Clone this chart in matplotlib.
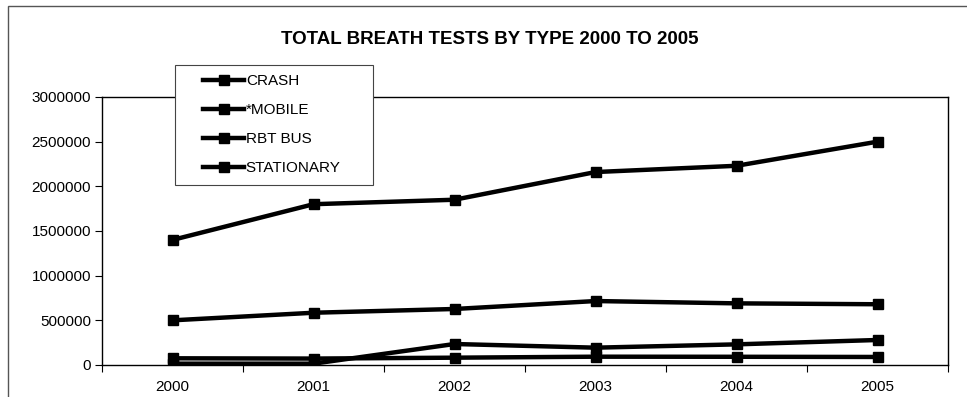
import matplotlib
matplotlib.use("Agg")
import matplotlib.pyplot as plt
from matplotlib.patches import Rectangle

plt.rcParams['font.family'] = ['Liberation Sans', 'DejaVu Sans']

years = ["2000", "2001", "2002", "2003", "2004", "2005"]
crash = [75000, 72000, 82000, 93000, 92000, 90000]
mobile = [15000, 15000, 235000, 194000, 231000, 280000]
rbt_bus = [500000, 585000, 627000, 716000, 690000, 680000]
stationary = [1400000, 1800000, 1850000, 2160000, 2230000, 2500000]

series = [("CRASH", crash), ("*MOBILE", mobile), ("RBT BUS", rbt_bus), ("STATIONARY", stationary)]

W, H = 967, 397
fig = plt.figure(figsize=(W / 100, H / 100), dpi=100)
fig.patch.set_facecolor("white")

# outer chart frame (runs off the right and bottom edges)
fig.patches.append(Rectangle((8 / W, -0.05), 1.2, 1 - 6 / H + 0.05, transform=fig.transFigure,
                             fill=False, edgecolor="#555555", linewidth=1.0))

ax = fig.add_axes([102 / W, 1 - 365 / H, (948 - 102) / W, (365 - 97) / H])
x = list(range(len(years)))
for name, vals in series:
    ax.plot(x, vals, color="black", linewidth=3.2, marker="s", markersize=6.5,
            markerfacecolor="black", markeredgecolor="black", label=name)

ax.set_xlim(-0.5, len(years) - 0.5)
ax.set_ylim(0, 3000000)
ax.set_yticks(range(0, 3000001, 500000))
ax.set_yticklabels([str(v) for v in range(0, 3000001, 500000)], fontsize=11)
ax.set_xticks([i + 0.5 for i in range(-1, len(years))], minor=False)
ax.set_xticklabels([])
ax.set_xticks(x, minor=True)
ax.set_xticklabels(years, minor=True, fontsize=11)
ax.tick_params(axis="x", which="minor", length=0, pad=11)
ax.tick_params(axis="x", which="major", length=5, width=0.8, direction="out")
ax.tick_params(axis="y", length=5, width=0.8, direction="out", pad=3)
for s in ax.spines.values():
    s.set_linewidth(1.0)
    s.set_color("black")

fig.text(490 / W, 1 - 39 / H, "TOTAL BREATH TESTS BY TYPE 2000 TO 2005",
         ha="center", va="center", fontsize=13.5, fontweight="bold")

# legend box, with entries indented inside it
box = Rectangle((175 / W, 1 - 185 / H), 198 / W, 120 / H, transform=fig.transFigure,
                facecolor="white", edgecolor="#444444", linewidth=0.8, zorder=9)
fig.patches.append(box)
leg = fig.legend(loc="upper left", bbox_to_anchor=(203 / W, 1 - 74 / H),
                 fontsize=11, frameon=False, handlelength=2.7, handletextpad=0.1,
                 labelspacing=0.98, borderpad=0.0, borderaxespad=0)
leg.set_zorder(10)

fig.savefig("out.png", dpi=100, facecolor="white")
